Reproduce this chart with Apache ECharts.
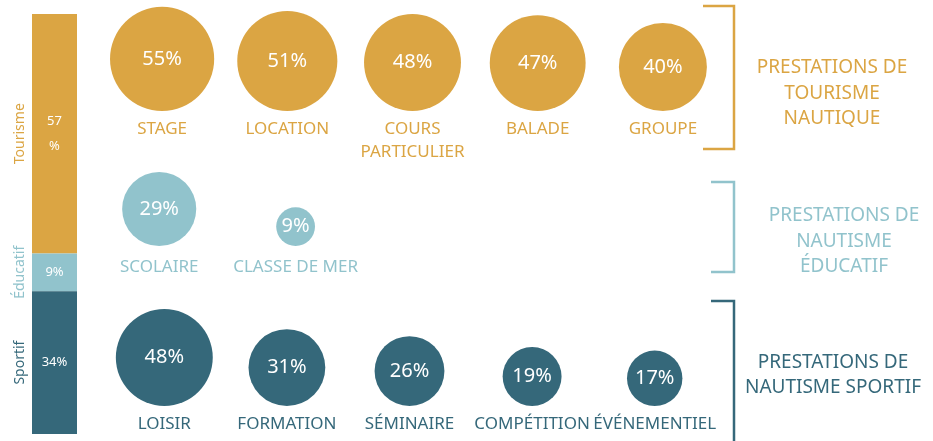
<!DOCTYPE html>
<html><head><meta charset="utf-8">
<script src="https://cdn.jsdelivr.net/npm/echarts@6/dist/echarts.min.js"></script>
<style>html,body{margin:0;padding:0;background:#fff}#c{width:933px;height:441px}</style>
</head><body><div id="c"></div>
<script>
const leftCats = ['Tourisme', 'Éducatif', 'Sportif'];
const leftValues = [57, 9, 34];
const tourismCats = ['STAGE', 'LOCATION', 'COURS\nPARTICULIER', 'BALADE', 'GROUPE'];
const tourismValues = [55, 51, 48, 47, 40];
const educCats = ['SCOLAIRE', 'CLASSE DE MER'];
const educValues = [29, 9];
const sportCats = ['LOISIR', 'FORMATION', 'SÉMINAIRE', 'COMPÉTITION', 'ÉVÉNEMENTIEL'];
const sportValues = [48, 31, 26, 19, 17];
const groupTitles = ['PRESTATIONS DE\nTOURISME\nNAUTIQUE', 'PRESTATIONS DE\nNAUTISME\nÉDUCATIF', 'PRESTATIONS DE\nNAUTISME SPORTIF'];

const colors = ['#DBA543', '#91C3CC', '#35687A'];
const FONT = 'Noto Sans';
const chart = echarts.init(document.getElementById('c'), null, {renderer: 'canvas'});

function diam(v) { return 14.8 * Math.sqrt(v) - 5.6; }
function padCats(c) { const a = c.slice(); while (a.length < 5) a.push(''); return a; }

const rows = [
  {cats: tourismCats, vals: tourismValues, grid: {left: 99.5, width: 626, top: 0, height: 111}, margin: 7},
  {cats: educCats, vals: educValues, grid: {left: 91, width: 682, top: 120, height: 126}, margin: 10},
  {cats: sportCats, vals: sportValues, grid: {left: 103, width: 613, top: 260, height: 146}, margin: 7}
];

const grids = [{left: 32, width: 45, top: 14, height: 420}];
const xAxes = [{type: 'category', gridIndex: 0, data: [''], show: false}];
const yAxes = [{type: 'value', gridIndex: 0, min: 0, max: 100, inverse: true, show: false}];
const series = [];

leftCats.forEach((name, i) => {
  series.push({
    type: 'bar', name: name, stack: 'left', xAxisIndex: 0, yAxisIndex: 0,
    barWidth: '100%', data: [leftValues[i]],
    itemStyle: {color: colors[i]},
    label: {
      show: true, position: 'inside', color: '#fff', fontFamily: FONT, fontSize: 13,
      lineHeight: 25,
      formatter: p => i === 0 ? p.value + '\n%' : p.value + '%'
    }
  });
});

rows.forEach((r, k) => {
  const gi = k + 1;
  grids.push(r.grid);
  xAxes.push({
    type: 'category', gridIndex: gi, data: padCats(r.cats),
    axisLine: {show: false}, axisTick: {show: false}, splitLine: {show: false},
    axisLabel: {interval: 0, hideOverlap: false, margin: r.margin, color: colors[k], fontFamily: FONT, fontSize: 17, lineHeight: 23}
  });
  yAxes.push({type: 'value', gridIndex: gi, min: 0, max: 1, show: false});
  series.push({
    type: 'scatter', xAxisIndex: gi, yAxisIndex: gi, clip: false,
    itemStyle: {color: colors[k], opacity: 1},
    label: {show: true, position: 'inside', color: '#fff', fontFamily: FONT, fontSize: 20,
      formatter: p => p.value[2] + '%'},
    emphasis: {disabled: true},
    data: r.vals.map((v, i) => {
      const d = diam(v);
      return {value: [i, 0, v], symbolSize: d, symbolOffset: [0, -d / 2]};
    })
  });
});

const TF = '19px "' + FONT + '"';
const graphic = [
  {type: 'polyline', shape: {points: [[703, 6], [734, 6], [734, 149], [703, 149]]}, style: {stroke: colors[0], lineWidth: 2.5, fill: null}},
  {type: 'polyline', shape: {points: [[711, 182], [734, 182], [734, 272], [711, 272]]}, style: {stroke: colors[1], lineWidth: 2.5, fill: null}},
  {type: 'polyline', shape: {points: [[711, 301], [734, 301], [734, 445]]}, style: {stroke: colors[2], lineWidth: 2.5, fill: null}},
  {type: 'text', x: 832, y: 93.5, style: {text: groupTitles[0], fill: colors[0], font: TF, textAlign: 'center', textVerticalAlign: 'middle', lineHeight: 25.5}},
  {type: 'text', x: 844, y: 241.5, style: {text: groupTitles[1], fill: colors[1], font: TF, textAlign: 'center', textVerticalAlign: 'middle', lineHeight: 25.5}},
  {type: 'text', x: 833, y: 375, style: {text: groupTitles[2], fill: colors[2], font: TF, textAlign: 'center', textVerticalAlign: 'middle', lineHeight: 25.5}}
];

chart.setOption({
  animation: false,
  textStyle: {fontFamily: FONT},
  grid: grids, xAxis: xAxes, yAxis: yAxes, series: series, graphic: graphic
});

// rotated category names beside the stacked bar
let cum = 0;
const extra = leftCats.map((name, i) => {
  const mid = cum + leftValues[i] / 2;
  cum += leftValues[i];
  const y = chart.convertToPixel({yAxisIndex: 0}, mid);
  return {type: 'text', x: 20, y: y, rotation: Math.PI / 2,
    style: {text: name, fill: colors[i], font: '14px "' + FONT + '"', textAlign: 'center', textVerticalAlign: 'middle'}};
});
chart.setOption({graphic: graphic.concat(extra)});
</script>
</body></html>
